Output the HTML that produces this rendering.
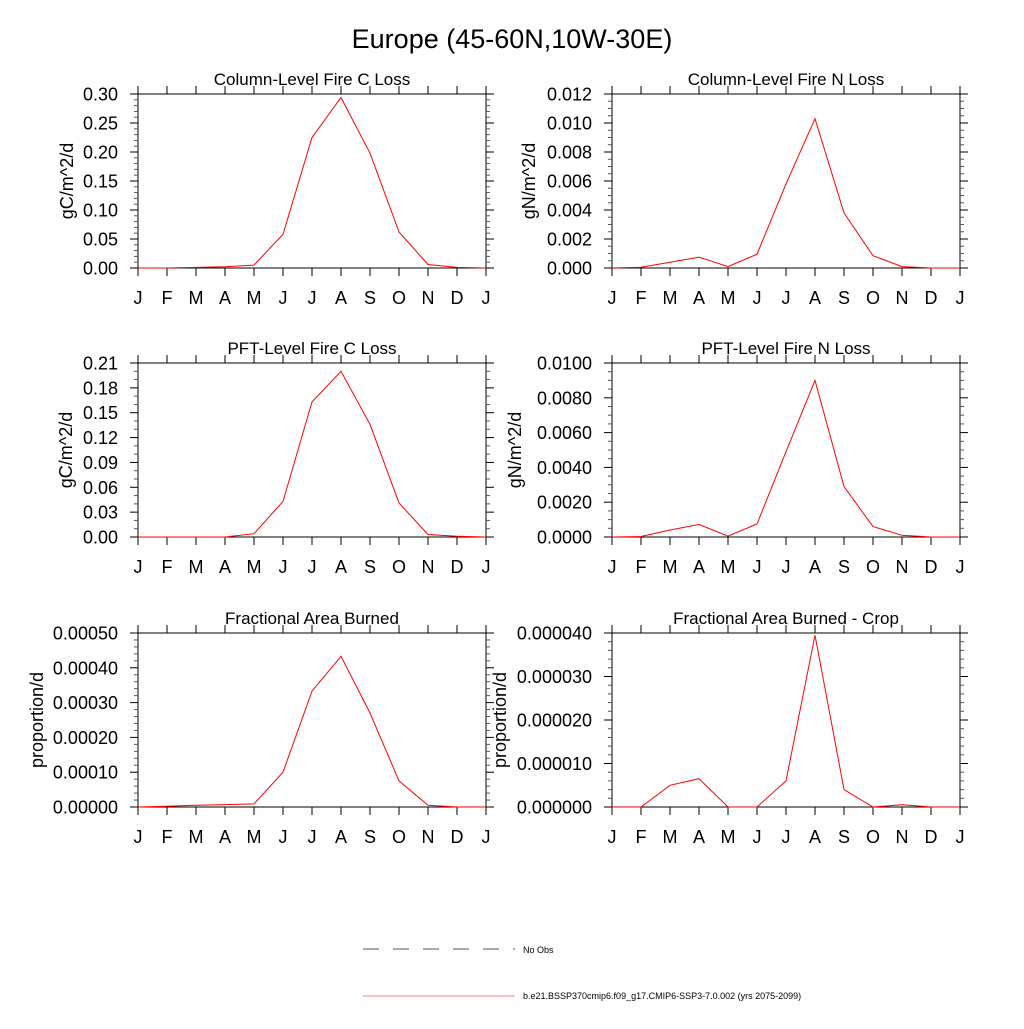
<!DOCTYPE html>
<html><head><meta charset="utf-8"><style>
html,body{margin:0;padding:0;background:#fff}
svg text{font-family:"Liberation Sans",Arial,sans-serif;fill:#000}
</style></head><body>
<svg id="s" width="1024" height="1024" xmlns="http://www.w3.org/2000/svg">
<text x="512" y="48" font-size="27" text-anchor="middle">Europe (45-60N,10W-30E)</text>
</svg>
<script>
var s=document.getElementById('s'),h='';
var P=[
{x:138,y:94,t:'Column-Level Fire C Loss',yl:'gC/m^2/d',lx:73,max:0.30,st:0.05,dec:2,minor:5,d:[0,0,0.001,0.002,0.005,0.058,0.225,0.294,0.198,0.062,0.006,0.001,0]},
{x:612,y:94,t:'Column-Level Fire N Loss',yl:'gN/m^2/d',lx:535,max:0.012,st:0.002,dec:3,minor:4,d:[0,0.00005,0.0004,0.00075,0.0001,0.00095,0.0058,0.0103,0.0038,0.00085,0.0001,0,0]},
{x:138,y:363,t:'PFT-Level Fire C Loss',yl:'gC/m^2/d',lx:72,max:0.21,st:0.03,dec:2,minor:3,d:[0,0,0,0,0.004,0.043,0.163,0.2,0.136,0.041,0.003,0.001,0]},
{x:612,y:363,t:'PFT-Level Fire N Loss',yl:'gN/m^2/d',lx:521,max:0.01,st:0.002,dec:4,minor:4,d:[0,0.00003,0.0004,0.00072,0.00005,0.00075,0.0049,0.009,0.0029,0.0006,0.0001,0,0]},
{x:138,y:633,t:'Fractional Area Burned',yl:'proportion/d',lx:43,max:0.0005,st:0.0001,dec:5,minor:5,d:[0,0.000002,0.000005,0.000007,0.000009,0.0001,0.000333,0.000433,0.00027,0.000075,0.000005,0,0]},
{x:612,y:633,t:'Fractional Area Burned - Crop',yl:'proportion/d',lx:506,max:0.00004,st:0.00001,dec:6,minor:5,d:[0,0,0.000005,0.0000065,0,0,0.000006,0.0000395,0.000004,0,0.0000005,0,0]}
];
var M='JFMAMJJASONDJ',W=348,H=174;
P.forEach(function(p){
 var x0=p.x,y0=p.y,x1=x0+W,y1=y0+H;
 h+='<text x="'+(x0+W/2)+'" y="'+(y0-9)+'" font-size="17" text-anchor="middle">'+p.t+'</text>';
 h+='<rect x="'+x0+'" y="'+y0+'" width="'+W+'" height="'+H+'" fill="none" stroke="#000" stroke-width="1"/>';
 for(var i=0;i<=12;i++){var x=x0+i*W/12;
  h+='<line x1="'+x+'" y1="'+y1+'" x2="'+x+'" y2="'+(y1+8)+'" stroke="#000"/>';
  h+='<line x1="'+x+'" y1="'+y0+'" x2="'+x+'" y2="'+(y0-8)+'" stroke="#000"/>';
  h+='<text x="'+x+'" y="'+(y1+36)+'" font-size="18" text-anchor="middle">'+M[i]+'</text>';}
 var n=Math.round(p.max/p.st);
 for(var k=0;k<=n;k++){var y=y1-k*H/n;
  h+='<line x1="'+(x0-8)+'" y1="'+y+'" x2="'+x0+'" y2="'+y+'" stroke="#000"/>';
  h+='<line x1="'+x1+'" y1="'+y+'" x2="'+(x1+8)+'" y2="'+y+'" stroke="#000"/>';
  h+='<text x="'+(x0-20)+'" y="'+(y+6.5)+'" font-size="18" text-anchor="end">'+(k*p.st).toFixed(p.dec)+'</text>';
  if(k<n)for(var m=1;m<p.minor;m++){var ym=y-m*H/n/p.minor;
   h+='<line x1="'+(x0-4)+'" y1="'+ym+'" x2="'+x0+'" y2="'+ym+'" stroke="#555"/>';
   h+='<line x1="'+x1+'" y1="'+ym+'" x2="'+(x1+4)+'" y2="'+ym+'" stroke="#555"/>';}}
 h+='<text transform="translate('+p.lx+','+(y0+H/2)+') rotate(-90)" font-size="18" text-anchor="middle">'+p.yl+'</text>';
 var pts=p.d.map(function(v,i){return (x0+i*W/12).toFixed(1)+','+(y1-v/p.max*H).toFixed(1)}).join(' ');
 h+='<polyline points="'+pts+'" fill="none" stroke="#f00" stroke-width="1"/>';
});
h+='<line x1="363" y1="949" x2="515" y2="949" stroke="#555" stroke-dasharray="16,14"/>';
h+='<text x="523" y="953" font-size="9">No Obs</text>';
h+='<line x1="363" y1="996" x2="515" y2="996" stroke="#f08080"/>';
h+='<text x="523" y="999" font-size="9">b.e21.BSSP370cmip6.f09_g17.CMIP6-SSP3-7.0.002 (yrs 2075-2099)</text>';
s.insertAdjacentHTML('beforeend',h);
</script>
</body></html>
